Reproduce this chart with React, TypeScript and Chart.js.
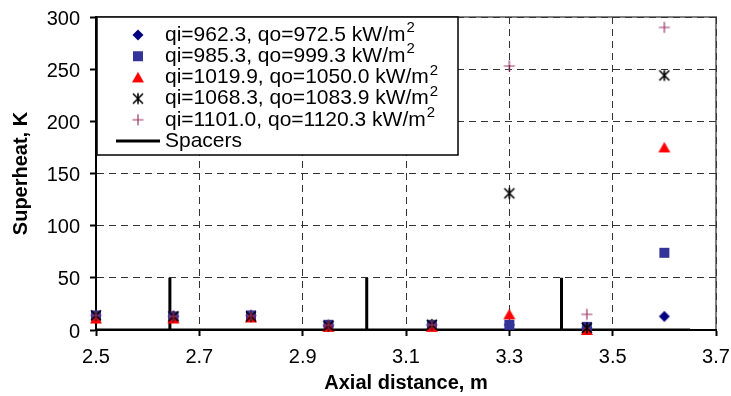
import React, { useEffect, useRef } from 'react';
import { Chart, registerables } from 'chart.js';

Chart.register(...registerables);

const axialDistance = [2.5, 2.65, 2.8, 2.95, 3.15, 3.3, 3.45, 3.6];
const superheat1 = [14, 13, 14, 4, 5, 5, 2, 13];
const superheat2 = [14, 13, 14, 5, 5, 5, 3, 74];
const superheat3 = [11, 11, 12, 3, 3, 15, 0, 175];
const superheat4 = [14, 13, 13, 4, 5, 131, 2, 244];
const superheat5 = [14, 13, 14, 5, 5, 253, 15, 290];
const seriesLabels = [
  'qi=962.3, qo=972.5 kW/m',
  'qi=985.3, qo=999.3 kW/m',
  'qi=1019.9, qo=1050.0 kW/m',
  'qi=1068.3, qo=1083.9 kW/m',
  'qi=1101.0, qo=1120.3 kW/m',
];
const labelSuperscript = '2';
const spacerLabel = 'Spacers';
const spacerX = [2.5, 2.643, 2.643, 2.643, 3.024, 3.024, 3.024, 3.401, 3.401, 3.401, 3.65];
const spacerY = [0, 0, 50, 0, 0, 50, 0, 0, 50, 0, 0];
const xTickValues = [2.5, 2.7, 2.9, 3.1, 3.3, 3.5, 3.7];
const yTickValues = [0, 50, 100, 150, 200, 250, 300];
const xTitle = 'Axial distance, m';
const yTitle = 'Superheat, K';

const FONT = 'Arial, "Liberation Sans", Helvetica, sans-serif';
const seriesColors = ['#000080', '#333399', '#FF0000', '#000000', '#993366'];
const seriesShapes = ['diamond', 'square', 'triangle', 'star', 'plus'];

function makeMarker(shape: string, color: string): HTMLCanvasElement {
  const s = 14;
  const c = document.createElement('canvas');
  c.width = s;
  c.height = s;
  const ctx = c.getContext('2d')!;
  const m = s / 2;
  ctx.fillStyle = color;
  ctx.strokeStyle = color;
  if (shape === 'diamond') {
    ctx.beginPath();
    ctx.moveTo(m, m - 5.5);
    ctx.lineTo(m + 5.5, m);
    ctx.lineTo(m, m + 5.5);
    ctx.lineTo(m - 5.5, m);
    ctx.closePath();
    ctx.fill();
  } else if (shape === 'square') {
    ctx.fillRect(m - 5, m - 5, 10, 10);
  } else if (shape === 'triangle') {
    ctx.beginPath();
    ctx.moveTo(m, m - 5.5);
    ctx.lineTo(m + 6, m + 5);
    ctx.lineTo(m - 6, m + 5);
    ctx.closePath();
    ctx.fill();
  } else if (shape === 'star') {
    ctx.lineWidth = 1.6;
    ctx.beginPath();
    ctx.moveTo(m - 5, m - 5);
    ctx.lineTo(m + 5, m + 5);
    ctx.moveTo(m + 5, m - 5);
    ctx.lineTo(m - 5, m + 5);
    ctx.moveTo(m, m - 5.5);
    ctx.lineTo(m, m + 5.5);
    ctx.stroke();
  } else {
    ctx.lineWidth = 1.2;
    ctx.beginPath();
    ctx.moveTo(m - 5.5, m);
    ctx.lineTo(m + 5.5, m);
    ctx.moveTo(m, m - 5.5);
    ctx.lineTo(m, m + 5.5);
    ctx.stroke();
  }
  return c;
}

export default function App() {
  const ref = useRef<HTMLCanvasElement | null>(null);

  useEffect(() => {
    document.body.style.margin = '0';
    const canvas = ref.current!;
    const markers = seriesShapes.map((sh, i) => makeMarker(sh, seriesColors[i]));
    const seriesValues = [superheat1, superheat2, superheat3, superheat4, superheat5];

    const datasets: any[] = seriesValues.map((vals, i) => ({
      label: seriesLabels[i],
      data: axialDistance.map((x, j) => ({ x, y: vals[j] })),
      showLine: false,
      pointStyle: markers[i],
      pointRadius: 6,
      borderColor: seriesColors[i],
      backgroundColor: seriesColors[i],
      clip: false,
      order: 5 - i,
    }));
    datasets.push({
      label: spacerLabel,
      data: spacerX.map((x, j) => ({ x, y: spacerY[j] })),
      showLine: true,
      borderColor: '#000',
      borderWidth: 3,
      pointRadius: 0,
      tension: 0,
      order: 10,
    });

    const framePlugin = {
      id: 'frame',
      beforeDraw(chart: any) {
        const { ctx, chartArea: a } = chart;
        ctx.save();
        ctx.strokeStyle = '#808080';
        ctx.lineWidth = 2;
        ctx.beginPath();
        ctx.moveTo(a.left, a.top);
        ctx.lineTo(a.right, a.top);
        ctx.lineTo(a.right, a.bottom);
        ctx.stroke();
        ctx.restore();
      },
    };

    const legendPlugin = {
      id: 'boxLegend',
      afterDraw(chart: any) {
        const { ctx, chartArea: a } = chart;
        const left = a.left + 1;
        const top = a.top;
        const w = 361;
        const h = 138;
        ctx.save();
        ctx.fillStyle = '#fff';
        ctx.fillRect(left, top, w, h);
        ctx.strokeStyle = '#000';
        ctx.lineWidth = 1.5;
        ctx.strokeRect(left, top, w, h);
        const rowH = 21.2;
        const firstY = top + 18;
        const markerX = 138;
        const textX = 165;
        ctx.textBaseline = 'middle';
        ctx.textAlign = 'left';
        for (let i = 0; i < seriesLabels.length; i++) {
          const y = firstY + i * rowH;
          const mk = markers[i];
          ctx.drawImage(mk, markerX - mk.width / 2, y - mk.height / 2);
          ctx.fillStyle = '#000';
          ctx.font = `21px ${FONT}`;
          ctx.fillText(seriesLabels[i], textX, y);
          const tw = ctx.measureText(seriesLabels[i]).width;
          ctx.font = `15px ${FONT}`;
          ctx.fillText(labelSuperscript, textX + tw + 1, y - 7);
        }
        const sy = firstY + seriesLabels.length * rowH;
        ctx.strokeStyle = '#000';
        ctx.lineWidth = 3;
        ctx.beginPath();
        ctx.moveTo(116, sy);
        ctx.lineTo(160, sy);
        ctx.stroke();
        ctx.fillStyle = '#000';
        ctx.font = `21px ${FONT}`;
        ctx.fillText(spacerLabel, textX, sy);
        ctx.restore();
      },
    };

    const chart = new Chart(canvas, {
      type: 'scatter',
      data: { datasets },
      plugins: [framePlugin, legendPlugin],
      options: {
        animation: false,
        responsive: false,
        maintainAspectRatio: false,
        layout: { padding: { left: 0, top: 17, right: 15, bottom: 0 } },
        plugins: { legend: { display: false }, tooltip: { enabled: false } },
        scales: {
          x: {
            type: 'linear',
            min: 2.5,
            max: 3.7,
            afterBuildTicks: (s: any) => {
              s.ticks = xTickValues.map((v) => ({ value: v }));
            },
            afterFit: (s: any) => {
              s.height = 66;
              s.paddingLeft = 0;
              s.paddingRight = 0;
            },
            ticks: {
              callback: (v: any) => Number(v).toFixed(1),
              color: '#000',
              font: { size: 20, family: FONT },
              padding: 9,
              maxRotation: 0,
              autoSkip: false,
            },
            grid: {
              color: '#333',
              lineWidth: 1,
              tickLength: 6,
              tickColor: '#000',
              tickWidth: 2,
            },
            border: { display: true, color: '#000', width: 2, dash: [7, 5] },
            title: {
              display: true,
              text: xTitle,
              color: '#000',
              font: { size: 20, weight: 'bold', family: FONT },
              padding: { top: 0, bottom: 1 },
            },
          },
          y: {
            min: 0,
            max: 300,
            afterBuildTicks: (s: any) => {
              s.ticks = yTickValues.map((v) => ({ value: v }));
            },
            afterFit: (s: any) => {
              s.width = 96;
              s.paddingTop = 0;
              s.paddingBottom = 0;
            },
            ticks: {
              color: '#000',
              font: { size: 20, family: FONT },
              padding: 10,
              labelOffset: 2,
            },
            grid: {
              color: '#333',
              lineWidth: 1,
              tickLength: 6,
              tickColor: '#000',
              tickWidth: 2,
            },
            border: { display: true, color: '#000', width: 2, dash: [7, 5] },
            title: {
              display: true,
              text: yTitle,
              color: '#000',
              font: { size: 20, weight: 'bold', family: FONT },
              padding: { top: 9, bottom: 0 },
            },
          },
        },
      } as any,
    });
    return () => chart.destroy();
  }, []);

  return (
    <div style={{ width: 731, height: 396 }}>
      <canvas ref={ref} width={731} height={396} style={{ display: 'block' }} />
    </div>
  );
}
